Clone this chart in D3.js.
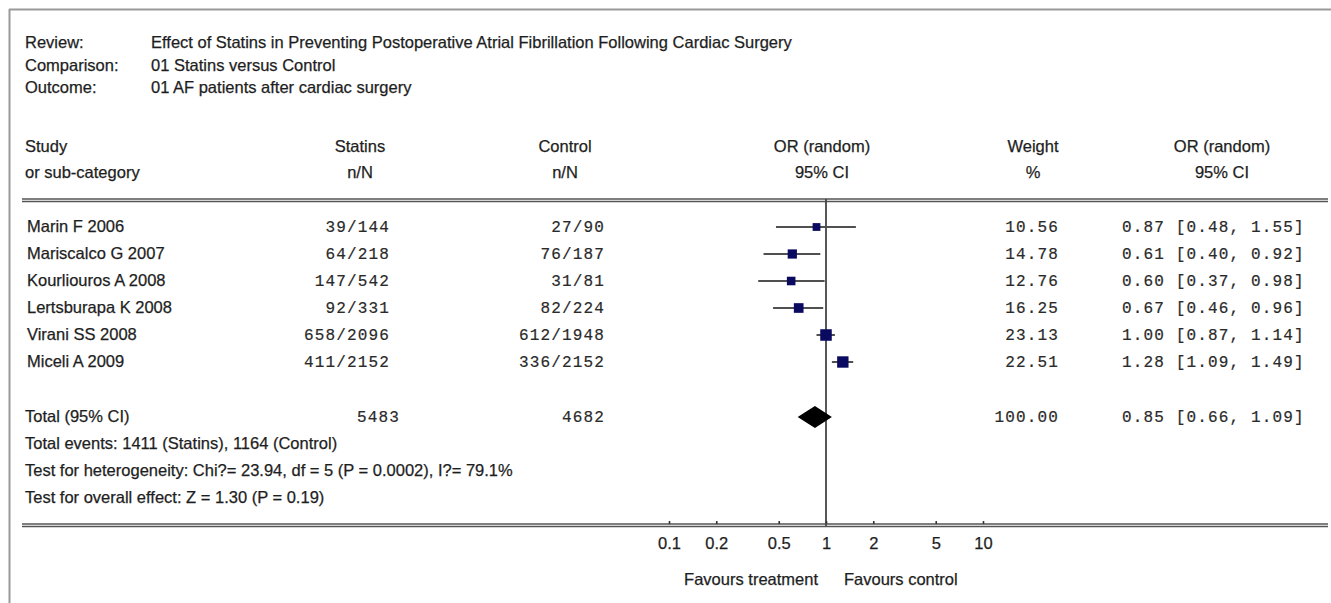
<!DOCTYPE html>
<html><head><meta charset="utf-8">
<script src="https://cdn.jsdelivr.net/npm/d3@7"></script>
<style>
body{margin:0;background:#fff;}
svg{display:block;}
.sans{font-family:"Liberation Sans",Arial,sans-serif;font-size:16.5px;fill:#1e1e1e;stroke:#1e1e1e;stroke-width:0.25px;}
.mono{font-family:"Liberation Mono","Courier New",monospace;font-size:16px;letter-spacing:1.15px;fill:#2a2a2a;stroke:#2a2a2a;stroke-width:0.2px;}
</style></head>
<body>
<svg id="c" width="1331" height="603"></svg>
<script>
// ---- data ----
const metaLabels = ["Review:", "Comparison:", "Outcome:"];
const metaValues = ["Effect of Statins in Preventing Postoperative Atrial Fibrillation Following Cardiac Surgery",
  "01 Statins versus Control", "01 AF patients after cardiac surgery"];
const studies = ["Marin F 2006", "Mariscalco G 2007", "Kourliouros A 2008", "Lertsburapa K 2008", "Virani SS 2008", "Miceli A 2009"];
const statinsNN = ["39/144", "64/218", "147/542", "92/331", "658/2096", "411/2152"];
const controlNN = ["27/90", "76/187", "31/81", "82/224", "612/1948", "336/2152"];
const weights = [10.56, 14.78, 12.76, 16.25, 23.13, 22.51];
const orValues = [0.87, 0.61, 0.60, 0.67, 1.00, 1.28];
const ciLow = [0.48, 0.40, 0.37, 0.46, 0.87, 1.09];
const ciHigh = [1.55, 0.92, 0.98, 0.96, 1.14, 1.49];
const totalLabel = "Total (95% CI)";
const totalStatins = "5483", totalControl = "4682", totalWeight = "100.00";
const totalOR = 0.85, totalLow = 0.66, totalHigh = 1.09;
const footLines = ["Total events: 1411 (Statins), 1164 (Control)",
  "Test for heterogeneity: Chi?= 23.94, df = 5 (P = 0.0002), I?= 79.1%",
  "Test for overall effect: Z = 1.30 (P = 0.19)"];
const axisTicks = [0.1, 0.2, 0.5, 1, 2, 5, 10];
const axisTickLabels = ["0.1", "0.2", "0.5", "1", "2", "5", "10"];
const favourLabels = ["Favours treatment", "Favours control"];

const fmt2 = d3.format(".2f");
const svg = d3.select("#c");

// frame
svg.append("line").attr("x1",9).attr("x2",1331).attr("y1",9.5).attr("y2",9.5).attr("stroke","#999").attr("stroke-width",2);
svg.append("line").attr("x1",9.5).attr("x2",9.5).attr("y1",9).attr("y2",603).attr("stroke","#999").attr("stroke-width",2);

// meta
metaLabels.forEach((t,i)=>{
  svg.append("text").attr("class","sans").attr("x",25).attr("y",48+i*22.5).text(t);
  svg.append("text").attr("class","sans").attr("x",151).attr("y",48+i*22.5).text(metaValues[i]);
});

// headers
const hdr = [
  {x:25, a:"start", l:["Study","or sub-category"]},
  {x:360, a:"middle", l:["Statins","n/N"]},
  {x:565, a:"middle", l:["Control","n/N"]},
  {x:822, a:"middle", l:["OR (random)","95% CI"]},
  {x:1033, a:"middle", l:["Weight","%"]},
  {x:1222, a:"middle", l:["OR (random)","95% CI"]}
];
hdr.forEach(h=>h.l.forEach((t,i)=>{
  svg.append("text").attr("class","sans").attr("x",h.x).attr("y",152+i*26).attr("text-anchor",h.a).text(t);
}));

// header rule (double)
svg.append("line").attr("x1",22).attr("x2",1328).attr("y1",199).attr("y2",199).attr("stroke","#555").attr("stroke-width",1.4);
svg.append("line").attr("x1",22).attr("x2",1328).attr("y1",201.5).attr("y2",201.5).attr("stroke","#555").attr("stroke-width",1.4);

// scales
const x = d3.scaleLog().domain([0.1,10]).range([669,983]);
const rowY = d3.scalePoint().domain(studies).range([227,362]);
const sq = d3.scaleSqrt().domain([0,25]).range([0,12]);
const totalY = 417;

// null line
svg.append("line").attr("x1",x(1)).attr("x2",x(1)).attr("y1",199).attr("y2",526).attr("stroke","#444").attr("stroke-width",1.8);

// rows
studies.forEach((s,i)=>{
  const y = rowY(s);
  svg.append("text").attr("class","sans").attr("x",27).attr("y",y+5).text(s);
  svg.append("text").attr("class","mono").attr("x",390).attr("y",y+5).attr("text-anchor","end").text(statinsNN[i]);
  svg.append("text").attr("class","mono").attr("x",605).attr("y",y+5).attr("text-anchor","end").text(controlNN[i]);
  svg.append("text").attr("class","mono").attr("x",1059).attr("y",y+5).attr("text-anchor","end").text(fmt2(weights[i]));
  svg.append("text").attr("class","mono").attr("x",1122).attr("y",y+5)
    .text(`${fmt2(orValues[i])} [${fmt2(ciLow[i])}, ${fmt2(ciHigh[i])}]`);
  svg.append("line").attr("x1",x(ciLow[i])).attr("x2",x(ciHigh[i])).attr("y1",y).attr("y2",y).attr("stroke","#505050").attr("stroke-width",2);
  const w = sq(weights[i]);
  svg.append("rect").attr("x",x(orValues[i])-w/2).attr("y",y-w/2).attr("width",w).attr("height",w).attr("fill","#0a0a60");
});

// total
svg.append("text").attr("class","sans").attr("x",25).attr("y",totalY+5).text(totalLabel);
svg.append("text").attr("class","mono").attr("x",400).attr("y",totalY+5).attr("text-anchor","end").text(totalStatins);
svg.append("text").attr("class","mono").attr("x",605).attr("y",totalY+5).attr("text-anchor","end").text(totalControl);
svg.append("text").attr("class","mono").attr("x",1059).attr("y",totalY+5).attr("text-anchor","end").text(totalWeight);
svg.append("text").attr("class","mono").attr("x",1122).attr("y",totalY+5)
  .text(`${fmt2(totalOR)} [${fmt2(totalLow)}, ${fmt2(totalHigh)}]`);
svg.append("path")
  .attr("d",`M${x(totalLow)},${totalY} L${x(totalOR)},${totalY-11} L${x(totalHigh)},${totalY} L${x(totalOR)},${totalY+11} Z`)
  .attr("fill","#000");

footLines.forEach((t,i)=>{
  svg.append("text").attr("class","sans").attr("x",25).attr("y",449+i*27).text(t);
});

// axis rule (double)
svg.append("line").attr("x1",22).attr("x2",1328).attr("y1",524).attr("y2",524).attr("stroke","#555").attr("stroke-width",1.4);
svg.append("line").attr("x1",22).attr("x2",1328).attr("y1",526.5).attr("y2",526.5).attr("stroke","#555").attr("stroke-width",1.4);

const axisG = svg.append("g").attr("transform","translate(0,524)")
  .call(d3.axisTop(x).tickValues(axisTicks).tickSize(3).tickFormat(""));
axisG.select(".domain").remove();
axisG.selectAll(".tick line").attr("stroke","#333").attr("stroke-width",1.6);
const axisLab = svg.append("g").attr("transform","translate(0,527)")
  .call(d3.axisBottom(x).tickValues(axisTicks).tickSize(0).tickPadding(10).tickFormat((d,i)=>axisTickLabels[i]));
axisLab.select(".domain").remove();
axisLab.selectAll("text").attr("class","sans").attr("font-family",null).attr("font-size",null).attr("fill",null);

svg.append("text").attr("class","sans").attr("x",x(1)-8).attr("y",585).attr("text-anchor","end").text(favourLabels[0]);
svg.append("text").attr("class","sans").attr("x",x(1)+18).attr("y",585).attr("text-anchor","start").text(favourLabels[1]);
</script>
</body></html>
